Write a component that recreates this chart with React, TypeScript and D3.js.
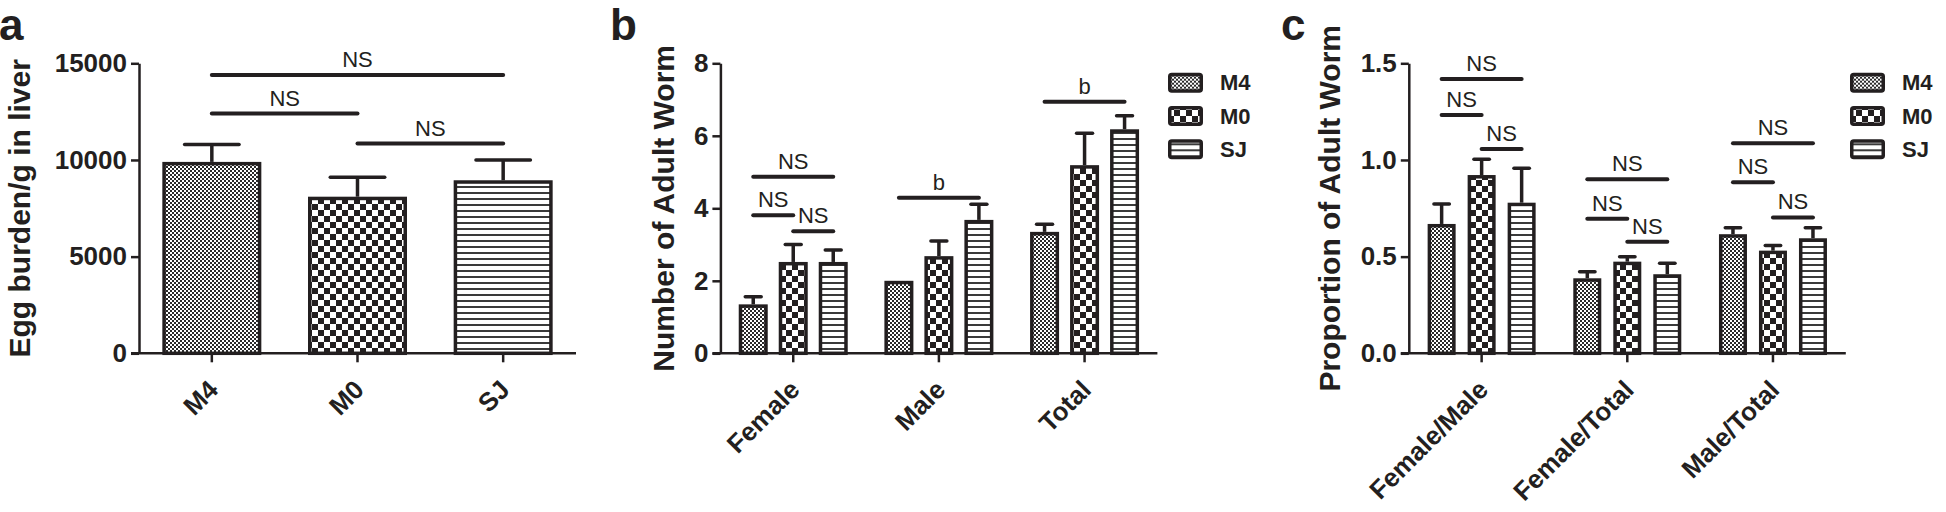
import React, { useEffect, useRef } from 'react';
import * as d3 from 'd3';

// groups / strains
const strains = ['M4', 'M0', 'SJ'];

// panel a: egg burden
const eggMean = [9900, 8100, 8950];
const eggErr = [900, 1000, 1050];
const eggSig = [
    { from: 'M4', to: 'SJ', y: 14400, label: 'NS' },
    { from: 'M4', to: 'M0', y: 12400, label: 'NS' },
    { from: 'M0', to: 'SJ', y: 10850, label: 'NS' },
];
const eggTicks = [0, 5000, 10000, 15000];

// panel b: number of adult worm
const wormCats = ['Female', 'Male', 'Total'];
const wormM4 = [1.35, 2.0, 3.35];
const wormM4Err = [0.21, 0, 0.21];
const wormM0 = [2.52, 2.68, 5.19];
const wormM0Err = [0.48, 0.42, 0.88];
const wormSJ = [2.52, 3.68, 6.18];
const wormSJErr = [0.33, 0.43, 0.37];
const wormSig = [
    { cat: 'Female', from: 'M4', to: 'SJ', y: 4.87, label: 'NS' },
    { cat: 'Female', from: 'M4', to: 'M0', y: 3.81, label: 'NS' },
    { cat: 'Female', from: 'M0', to: 'SJ', y: 3.37, label: 'NS' },
    { cat: 'Male', from: 'M4', to: 'SJ', y: 4.29, label: 'b' },
    { cat: 'Total', from: 'M4', to: 'SJ', y: 6.94, label: 'b' },
];
const wormTicks = [0, 2, 4, 6, 8];

// panel c: proportion of adult worm
const ratioCats = ['Female/Male', 'Female/Total', 'Male/Total'];
const ratioM4 = [0.669, 0.388, 0.616];
const ratioM4Err = [0.103, 0.034, 0.034];
const ratioM0 = [0.922, 0.474, 0.531];
const ratioM0Err = [0.082, 0.026, 0.026];
const ratioSJ = [0.779, 0.409, 0.595];
const ratioSJErr = [0.178, 0.057, 0.055];
const ratioSig = [
    { cat: 'Female/Male', from: 'M4', to: 'SJ', y: 1.419, label: 'NS' },
    { cat: 'Female/Male', from: 'M4', to: 'M0', y: 1.233, label: 'NS' },
    { cat: 'Female/Male', from: 'M0', to: 'SJ', y: 1.057, label: 'NS' },
    { cat: 'Female/Total', from: 'M4', to: 'SJ', y: 0.9, label: 'NS' },
    { cat: 'Female/Total', from: 'M4', to: 'M0', y: 0.696, label: 'NS' },
    { cat: 'Female/Total', from: 'M0', to: 'SJ', y: 0.577, label: 'NS' },
    { cat: 'Male/Total', from: 'M4', to: 'SJ', y: 1.086, label: 'NS' },
    { cat: 'Male/Total', from: 'M4', to: 'M0', y: 0.885, label: 'NS' },
    { cat: 'Male/Total', from: 'M0', to: 'SJ', y: 0.703, label: 'NS' },
];
const ratioTicks = [0, 0.5, 1.0, 1.5];

const INK = '#231f20';
const FONT = '"Liberation Sans", Arial, Helvetica, sans-serif';
const ZERO_Y = 353.3;
const TOP_Y = 63.3;
const PLOT_W = 437;
const SW = 3.5;

const patternId = (s) => 'pat-' + s;

function grouped(cats, vals, errs) {
    const out = [];
    cats.forEach((c, i) => {
        strains.forEach((s, j) => out.push({ cat: c, strain: s, v: vals[j][i], e: errs[j][i] }));
    });
    return out;
}

function drawPanel(svg, cfg) {
    const y = d3.scaleLinear().domain([0, cfg.yMax]).range([ZERO_Y, TOP_Y]);
    const x = d3.scaleBand().domain(cfg.cats).range([cfg.axisX, cfg.axisX + PLOT_W]);
    const sub = d3.scaleBand().domain(strains)
        .range([-cfg.subStep * 1.5, cfg.subStep * 1.5]);
    // single bars: the category is the strain itself
    const pos = (cat, strain) => cfg.grouped
        ? x(cat) + x.bandwidth() / 2 + sub(strain) + sub.bandwidth() / 2
        : x(strain) + x.bandwidth() / 2;

    const g = svg.append('g');

    // panel letter
    g.append('text')
        .attr('x', cfg.letterX).attr('y', 40)
        .style('font-family', FONT).style('font-weight', 'bold').style('font-size', '44px')
        .attr('fill', INK)
        .text(cfg.letter);

    // y title
    g.append('text')
        .attr('transform', `translate(${cfg.axisX - cfg.titleDx}, ${(ZERO_Y + TOP_Y) / 2}) rotate(-90)`)
        .attr('text-anchor', 'middle')
        .style('font-family', FONT).style('font-weight', 'bold').style('font-size', '30px')
        .attr('fill', INK)
        .text(cfg.title);

    // error bars (upper only)
    const capW = cfg.barW * 0.55;
    cfg.bars.filter(b => b.e > 0).forEach(b => {
        const cx = pos(b.cat, b.strain);
        g.append('line')
            .attr('x1', cx).attr('x2', cx)
            .attr('y1', y(b.v)).attr('y2', y(b.v + b.e))
            .attr('stroke', INK).attr('stroke-width', SW);
        g.append('line')
            .attr('x1', cx - capW / 2).attr('x2', cx + capW / 2)
            .attr('y1', y(b.v + b.e)).attr('y2', y(b.v + b.e))
            .attr('stroke', INK).attr('stroke-width', SW).attr('stroke-linecap', 'round');
    });

    // bars
    g.selectAll('rect.bar')
        .data(cfg.bars)
        .enter().append('rect')
        .attr('class', 'bar')
        .attr('x', b => pos(b.cat, b.strain) - cfg.barW / 2 + SW / 2)
        .attr('width', cfg.barW - SW)
        .attr('y', b => y(b.v) + SW / 2)
        .attr('height', b => ZERO_Y - y(b.v) - SW / 2)
        .attr('fill', b => `url(#${patternId(b.strain)})`)
        .attr('stroke', INK)
        .attr('stroke-width', SW);

    // y axis
    const yAxis = g.append('g')
        .attr('transform', `translate(${cfg.axisX}, 0)`)
        .call(d3.axisLeft(y).tickValues(cfg.ticks).tickFormat(cfg.fmt)
            .tickSize(8).tickSizeOuter(0).tickPadding(4));
    yAxis.selectAll('path, line').attr('stroke', INK).attr('stroke-width', 2.5);
    yAxis.selectAll('text')
        .attr('fill', INK)
        .style('font-family', FONT).style('font-weight', 'bold').style('font-size', '26px');

    // x axis
    g.append('line')
        .attr('x1', cfg.axisX - 8).attr('x2', cfg.axisX + PLOT_W)
        .attr('y1', ZERO_Y).attr('y2', ZERO_Y)
        .attr('stroke', INK).attr('stroke-width', 2.5);
    const xAxis = g.append('g')
        .attr('transform', `translate(0, ${ZERO_Y})`)
        .call(d3.axisBottom(x).tickSize(9).tickSizeOuter(0));
    xAxis.select('.domain').remove();
    xAxis.selectAll('line').attr('stroke', INK).attr('stroke-width', 2.5);
    xAxis.selectAll('text')
        .attr('x', 0).attr('y', 0).attr('dy', null)
        .attr('transform', 'translate(8, 38) rotate(-45)')
        .attr('text-anchor', 'end')
        .attr('fill', INK)
        .style('font-family', FONT).style('font-weight', 'bold').style('font-size', '26px');

    // significance
    cfg.sig.forEach(s => {
        const x1 = pos(s.cat, s.from);
        const x2 = pos(s.cat, s.to);
        g.append('line')
            .attr('x1', x1).attr('x2', x2)
            .attr('y1', y(s.y)).attr('y2', y(s.y))
            .attr('stroke', INK).attr('stroke-width', 4).attr('stroke-linecap', 'round');
        g.append('text')
            .attr('x', (x1 + x2) / 2).attr('y', y(s.y) - 8)
            .attr('text-anchor', 'middle')
            .style('font-family', FONT).style('font-size', '22px')
            .attr('fill', INK)
            .text(s.label);
    });

    // legend
    if (cfg.legendX != null) {
        const lg = g.selectAll('.legend')
            .data(strains)
            .enter().append('g')
            .attr('transform', (d, i) => `translate(${cfg.legendX}, ${82.7 + i * 33.3})`);
        lg.append('rect')
            .attr('x', SW / 2).attr('y', -10 + SW / 2)
            .attr('width', 35 - SW).attr('height', 20 - SW)
            .attr('rx', 2)
            .attr('fill', d => `url(#${patternId(d)})`)
            .attr('stroke', INK).attr('stroke-width', SW);
        lg.append('text')
            .attr('x', 52).attr('y', 7.5)
            .style('font-family', FONT).style('font-weight', 'bold').style('font-size', '22px')
            .attr('fill', INK)
            .text(d => d);
    }
}

export default function App() {
    const ref = useRef(null);

    useEffect(() => {
        document.body.style.margin = '0';
        if (!ref.current) return;
        const svg = d3.select(ref.current);
        svg.selectAll('*').remove();

        // fill patterns
        const defs = svg.append('defs');
        const pM4 = defs.append('pattern').attr('id', patternId('M4'))
            .attr('patternUnits', 'userSpaceOnUse').attr('width', 4).attr('height', 4);
        pM4.append('rect').attr('width', 4).attr('height', 4).attr('fill', '#fff');
        pM4.append('rect').attr('width', 2).attr('height', 2).attr('fill', '#2a2a2a');
        pM4.append('rect').attr('x', 2).attr('y', 2).attr('width', 2).attr('height', 2).attr('fill', '#2a2a2a');

        const pM0 = defs.append('pattern').attr('id', patternId('M0'))
            .attr('patternUnits', 'userSpaceOnUse').attr('width', 12).attr('height', 12);
        pM0.append('rect').attr('width', 12).attr('height', 12).attr('fill', '#fff');
        pM0.append('rect').attr('width', 6).attr('height', 6).attr('fill', INK);
        pM0.append('rect').attr('x', 6).attr('y', 6).attr('width', 6).attr('height', 6).attr('fill', INK);

        const pSJ = defs.append('pattern').attr('id', patternId('SJ'))
            .attr('patternUnits', 'userSpaceOnUse').attr('width', 6).attr('height', 6);
        pSJ.append('rect').attr('width', 6).attr('height', 6).attr('fill', '#fff');
        pSJ.append('rect').attr('width', 6).attr('height', 2).attr('fill', '#3a3a3a');

        drawPanel(svg, {
            letter: 'a', letterX: -1,
            axisX: 139, titleDx: 109,
            title: 'Egg burden/g in liver',
            yMax: 15000, ticks: eggTicks, fmt: d3.format('d'),
            cats: strains, grouped: false, barW: 99, subStep: 0,
            bars: strains.map((s, i) => ({ cat: s, strain: s, v: eggMean[i], e: eggErr[i] })),
            sig: eggSig.map(s => ({ ...s, cat: s.from })),
            legendX: null,
        });

        drawPanel(svg, {
            letter: 'b', letterX: 610,
            axisX: 720.4, titleDx: 46,
            title: 'Number of Adult Worm',
            yMax: 8, ticks: wormTicks, fmt: d3.format('d'),
            cats: wormCats, grouped: true, barW: 29, subStep: 40,
            bars: grouped(wormCats, [wormM4, wormM0, wormSJ], [wormM4Err, wormM0Err, wormSJErr]),
            sig: wormSig,
            legendX: 1168,
        });

        drawPanel(svg, {
            letter: 'c', letterX: 1281,
            axisX: 1408.8, titleDx: 69,
            title: 'Proportion of Adult Worm',
            yMax: 1.5, ticks: ratioTicks, fmt: d3.format('.1f'),
            cats: ratioCats, grouped: true, barW: 28, subStep: 40,
            bars: grouped(ratioCats, [ratioM4, ratioM0, ratioSJ], [ratioM4Err, ratioM0Err, ratioSJErr]),
            sig: ratioSig,
            legendX: 1850,
        });
    }, []);

    return (
        <svg ref={ref} width={1946} height={512} style={{ display: 'block', background: '#fff' }} />
    );
}
